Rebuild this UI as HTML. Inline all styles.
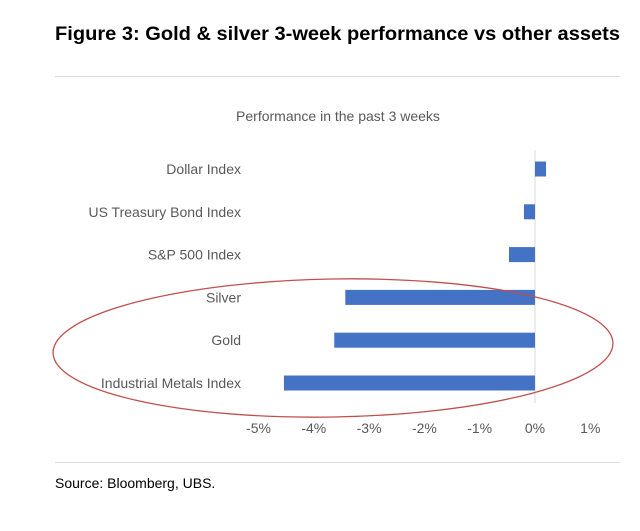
<!DOCTYPE html>
<html><head><meta charset="utf-8"><style>
body{margin:0;background:#fff;width:640px;height:526px;overflow:hidden;font-family:"Liberation Sans",sans-serif;}
</style></head><body>
<svg width="640" height="526" xmlns="http://www.w3.org/2000/svg">
<text x="55" y="40" font-size="19" font-weight="bold" fill="#000" textLength="565" lengthAdjust="spacingAndGlyphs">Figure 3: Gold &amp; silver 3-week performance vs other assets</text>
<line x1="55" y1="76.5" x2="620" y2="76.5" stroke="#ddd"/>
<text x="338" y="121" font-size="14" fill="#595959" text-anchor="middle">Performance in the past 3 weeks</text>
<g id="chart"></g>
<ellipse cx="333" cy="348" rx="280" ry="69" fill="none" stroke="#c0504d" stroke-width="1.3" transform="rotate(-1 333 348)"/>
<line x1="55" y1="462.5" x2="620" y2="462.5" stroke="#ddd"/>
<text x="55" y="488" font-size="14" fill="#000">Source: Bloomberg, UBS.</text>
</svg>
<script>
const categories=["Dollar Index","US Treasury Bond Index","S&P 500 Index","Silver","Gold","Industrial Metals Index"];
const values=[0.2,-0.2,-0.47,-3.43,-3.63,-4.54];
const ticks=[-5,-4,-3,-2,-1,0,1];
const tickLabels=["-5%","-4%","-3%","-2%","-1%","0%","1%"];
const NS="http://www.w3.org/2000/svg";
const g=document.getElementById('chart');
const x=v=>535+v*55.3;
const y=i=>169+i*42.8;
function mk(t,a){const e=document.createElementNS(NS,t);for(const k in a)e.setAttribute(k,a[k]);g.appendChild(e);return e;}
const zl=mk('line',{x1:x(0),x2:x(0),y1:150,y2:403,stroke:'#d9d9d9'});


categories.forEach((c,i)=>{
  const v=values[i];
  const r=mk('rect',{x:Math.min(x(0),x(v)),y:y(i)-7.5,width:Math.abs(x(v)-x(0)),height:15,fill:'#4472c4'});
  
  
  const t=mk('text',{x:241,y:y(i)+5,'font-size':14,fill:'#595959','text-anchor':'end'});
  t.textContent=c;
  
  
});
ticks.forEach((v,i)=>{
  const t=mk('text',{x:x(v),y:433,'font-size':14,fill:'#595959','text-anchor':'middle'});
  t.textContent=tickLabels[i];
  
  
});
</script>
</body></html>
